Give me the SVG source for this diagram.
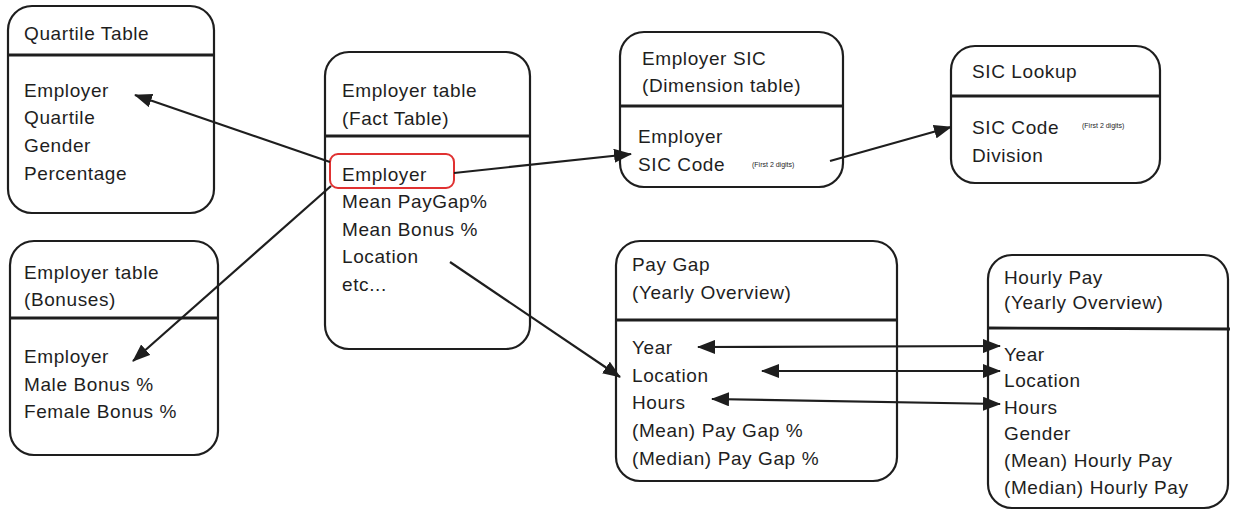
<svg xmlns="http://www.w3.org/2000/svg" width="1236" height="516" viewBox="0 0 1236 516">
<style>
.box{fill:none;stroke:#1e1e1e;stroke-width:2.2}
.div{stroke:#1e1e1e;stroke-width:2.8}
.t{font-family:"Liberation Sans",Arial,sans-serif;font-size:19px;fill:#1e1e1e;letter-spacing:0.6px}
.s{font-family:"Liberation Sans",Arial,sans-serif;font-size:7px;fill:#1e1e1e}
.c{fill:none;stroke:#1e1e1e;stroke-width:2.2}
</style>
<defs>
<marker id="ah2" viewBox="0 0 18 14" refX="17" refY="7" markerWidth="18" markerHeight="14" markerUnits="userSpaceOnUse" orient="auto-start-reverse">
<path d="M0,0 L18,7 L0,14 Z" fill="#1e1e1e"/>
</marker>
</defs>
<rect width="1236" height="516" fill="#ffffff"/>

<g id="quartile">
<rect class="box" x="8" y="6" width="206" height="207" rx="24"/>
<line class="div" x1="8" y1="55" x2="214" y2="55"/>
<text class="t" x="24" y="40">Quartile Table</text>
<text class="t" x="24" y="97">Employer</text>
<text class="t" x="24" y="124">Quartile</text>
<text class="t" x="24" y="152">Gender</text>
<text class="t" x="24" y="180">Percentage</text>
</g>

<g id="bonuses">
<rect class="box" x="10" y="241" width="208" height="214" rx="24"/>
<line class="div" x1="10" y1="318" x2="218" y2="318"/>
<text class="t" x="24" y="279">Employer table</text>
<text class="t" x="24" y="306">(Bonuses)</text>
<text class="t" x="24" y="363">Employer</text>
<text class="t" x="24" y="391">Male Bonus %</text>
<text class="t" x="24" y="418">Female Bonus %</text>
</g>

<g id="fact">
<rect class="box" x="325" y="52" width="205" height="297" rx="24"/>
<line class="div" x1="325" y1="136" x2="530" y2="136"/>
<text class="t" x="342" y="97">Employer table</text>
<text class="t" x="342" y="125">(Fact Table)</text>
<rect x="330" y="154" width="124" height="34" rx="8" fill="none" stroke="#e03131" stroke-width="2"/>
<text class="t" x="342" y="181">Employer</text>
<text class="t" x="342" y="208">Mean PayGap%</text>
<text class="t" x="342" y="236">Mean Bonus %</text>
<text class="t" x="342" y="263">Location</text>
<text class="t" x="342" y="291">etc...</text>
</g>

<g id="empsic">
<rect class="box" x="620" y="32" width="223" height="155" rx="24"/>
<line class="div" x1="620" y1="106" x2="843" y2="106"/>
<text class="t" x="642" y="65">Employer SIC</text>
<text class="t" x="642" y="92">(Dimension table)</text>
<text class="t" x="638" y="143">Employer</text>
<text class="t" x="638" y="171">SIC Code</text>
<text class="s" x="752" y="167">(First 2 digits)</text>
</g>

<g id="siclookup">
<rect class="box" x="951" y="46" width="209" height="137" rx="24"/>
<line class="div" x1="951" y1="96" x2="1160" y2="96"/>
<text class="t" x="972" y="78">SIC Lookup</text>
<text class="t" x="972" y="134">SIC Code</text>
<text class="s" x="1082" y="128">(First 2 digits)</text>
<text class="t" x="972" y="162">Division</text>
</g>

<g id="paygap">
<rect class="box" x="616" y="241" width="281" height="240" rx="24"/>
<line class="div" x1="616" y1="320" x2="897" y2="320"/>
<text class="t" x="632" y="271">Pay Gap</text>
<text class="t" x="632" y="299">(Yearly Overview)</text>
<text class="t" x="632" y="354">Year</text>
<text class="t" x="632" y="382">Location</text>
<text class="t" x="632" y="409">Hours</text>
<text class="t" x="632" y="437">(Mean) Pay Gap %</text>
<text class="t" x="632" y="465">(Median) Pay Gap %</text>
</g>

<g id="hourly">
<rect class="box" x="988" y="255" width="240" height="253" rx="24"/>
<line class="div" x1="988" y1="328" x2="1230" y2="329"/>
<text class="t" x="1004" y="284">Hourly Pay</text>
<text class="t" x="1004" y="309">(Yearly Overview)</text>
<text class="t" x="1004" y="361">Year</text>
<text class="t" x="1004" y="387">Location</text>
<text class="t" x="1004" y="414">Hours</text>
<text class="t" x="1004" y="440">Gender</text>
<text class="t" x="1004" y="467">(Mean) Hourly Pay</text>
<text class="t" x="1004" y="494">(Median) Hourly Pay</text>
</g>

<g id="connectors">
<line class="c" x1="330" y1="162" x2="135" y2="95" marker-end="url(#ah2)"/>
<line class="c" x1="331" y1="186" x2="133" y2="361" marker-end="url(#ah2)"/>
<line class="c" x1="454" y1="173" x2="631" y2="154" marker-end="url(#ah2)"/>
<line class="c" x1="830" y1="161" x2="951" y2="127" marker-end="url(#ah2)"/>
<line class="c" x1="450" y1="262" x2="620" y2="377" marker-end="url(#ah2)"/>
<line class="c" x1="698" y1="347" x2="1000" y2="346" marker-start="url(#ah2)" marker-end="url(#ah2)"/>
<line class="c" x1="762" y1="371" x2="1000" y2="371" marker-start="url(#ah2)" marker-end="url(#ah2)"/>
<line class="c" x1="712" y1="399" x2="1000" y2="404" marker-start="url(#ah2)" marker-end="url(#ah2)"/>
</g>
</svg>
